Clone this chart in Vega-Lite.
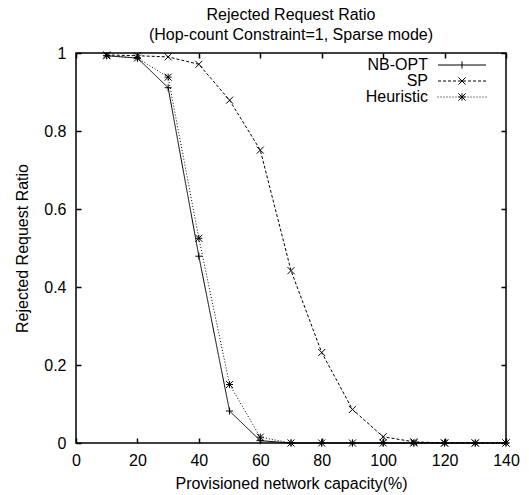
{
  "$schema": "https://vega.github.io/schema/vega-lite/v6.json",
  "width": 430,
  "height": 390,
  "autosize": {"type": "none"},
  "padding": {"left": 76, "top": 53, "right": 23, "bottom": 52},
  "background": "white",
  "title": {
    "text": ["Rejected Request Ratio", "(Hop-count Constraint=1, Sparse mode)"],
    "font": "Liberation Sans",
    "fontSize": 16,
    "fontWeight": "normal",
    "color": "black",
    "lineHeight": 20,
    "anchor": "middle",
    "frame": "group",
    "offset": 2
  },
  "data": {
    "values": [
      {"series": "NB-OPT", "x": 10, "y": 0.993},
      {"series": "NB-OPT", "x": 20, "y": 0.987},
      {"series": "NB-OPT", "x": 30, "y": 0.911},
      {"series": "NB-OPT", "x": 40, "y": 0.479},
      {"series": "NB-OPT", "x": 50, "y": 0.082},
      {"series": "NB-OPT", "x": 60, "y": 0.006},
      {"series": "NB-OPT", "x": 70, "y": 0},
      {"series": "NB-OPT", "x": 80, "y": 0},
      {"series": "NB-OPT", "x": 90, "y": 0},
      {"series": "NB-OPT", "x": 100, "y": 0},
      {"series": "NB-OPT", "x": 110, "y": 0},
      {"series": "NB-OPT", "x": 120, "y": 0},
      {"series": "NB-OPT", "x": 130, "y": 0},
      {"series": "NB-OPT", "x": 140, "y": 0},
      {"series": "SP", "x": 10, "y": 0.995},
      {"series": "SP", "x": 20, "y": 0.993},
      {"series": "SP", "x": 30, "y": 0.99},
      {"series": "SP", "x": 40, "y": 0.971},
      {"series": "SP", "x": 50, "y": 0.879},
      {"series": "SP", "x": 60, "y": 0.751},
      {"series": "SP", "x": 70, "y": 0.442},
      {"series": "SP", "x": 80, "y": 0.232},
      {"series": "SP", "x": 90, "y": 0.086},
      {"series": "SP", "x": 100, "y": 0.016},
      {"series": "SP", "x": 110, "y": 0.003},
      {"series": "SP", "x": 120, "y": 0},
      {"series": "SP", "x": 130, "y": 0},
      {"series": "SP", "x": 140, "y": 0},
      {"series": "Heuristic", "x": 10, "y": 0.993},
      {"series": "Heuristic", "x": 20, "y": 0.987},
      {"series": "Heuristic", "x": 30, "y": 0.938},
      {"series": "Heuristic", "x": 40, "y": 0.525},
      {"series": "Heuristic", "x": 50, "y": 0.15},
      {"series": "Heuristic", "x": 60, "y": 0.015},
      {"series": "Heuristic", "x": 70, "y": 0},
      {"series": "Heuristic", "x": 80, "y": 0},
      {"series": "Heuristic", "x": 90, "y": 0},
      {"series": "Heuristic", "x": 100, "y": 0},
      {"series": "Heuristic", "x": 110, "y": 0},
      {"series": "Heuristic", "x": 120, "y": 0},
      {"series": "Heuristic", "x": 130, "y": 0},
      {"series": "Heuristic", "x": 140, "y": 0}
    ]
  },
  "layer": [
    {
      "mark": {"type": "line", "color": "black", "strokeWidth": 1},
      "encoding": {
        "x": {
          "field": "x", "type": "quantitative",
          "scale": {"domain": [0, 140], "nice": false, "zero": false},
          "axis": {"orient": "bottom", "values": [0, 20, 40, 60, 80, 100, 120, 140], "title": "Provisioned network capacity(%)", "labelPadding": 14, "titlePadding": 7}
        },
        "y": {
          "field": "y", "type": "quantitative",
          "scale": {"domain": [0, 1], "nice": false, "zero": false},
          "axis": {"orient": "left", "values": [0, 0.2, 0.4, 0.6, 0.8, 1], "format": "~g", "title": "Rejected Request Ratio", "labelPadding": 15, "titlePadding": 13}
        },
        "strokeDash": {
          "field": "series", "type": "nominal",
          "scale": {"range": [[1, 2], [1, 0], [3, 2]]},
          "legend": null
        }
      }
    },
    {
      "mark": {"type": "point", "filled": false, "color": "black", "size": 49, "strokeWidth": 1, "opacity": 1},
      "encoding": {
        "x": {
          "field": "x", "type": "quantitative",
          "axis": {"orient": "top", "values": [0, 20, 40, 60, 80, 100, 120, 140], "labels": false, "title": null}
        },
        "y": {
          "field": "y", "type": "quantitative",
          "axis": {"orient": "right", "values": [0, 0.2, 0.4, 0.6, 0.8, 1], "labels": false, "title": null}
        },
        "shape": {
          "field": "series", "type": "nominal",
          "scale": {
            "domain": ["NB-OPT", "SP", "Heuristic"],
            "range": ["M-1,0H1M0,-1V1", "M-1,-1L1,1M-1,1L1,-1", "M-1,0H1M0,-1V1M-1,-1L1,1M-1,1L1,-1"]
          },
          "legend": null
        }
      }
    },
    {
      "mark": {"type": "point", "filled": false, "color": "black", "size": 64, "strokeWidth": 1, "opacity": 0},
      "encoding": {
        "x": {"field": "x", "type": "quantitative", "axis": null},
        "y": {"field": "y", "type": "quantitative", "axis": null},
        "shape": {
          "field": "series", "type": "nominal",
          "scale": {
            "domain": ["NB-OPT", "SP", "Heuristic"],
            "range": [
              "M-6,0H6M0,-0.9V0.9",
              "M-6,0H-5.25M-4.75,0H-4M-3.5,0H-2.75M-2.25,0H-1.5M-1,0H-0.25M0.25,0H1M1.5,0H2.25M2.75,0H3.5M4,0H4.75M5.25,0H6M-0.9,-0.9L0.9,0.9M-0.9,0.9L0.9,-0.9",
              "M-6.125,0H-5.875M-5.375,0H-5.125M-4.625,0H-4.375M-3.875,0H-3.625M-3.125,0H-2.875M-2.375,0H-2.125M-1.625,0H-1.375M-0.875,0H-0.625M0.625,0H0.875M1.375,0H1.625M2.125,0H2.375M2.875,0H3.125M3.625,0H3.875M4.375,0H4.625M5.125,0H5.375M5.875,0H6.125M-0.9,0H0.9M0,-0.9V0.9M-0.9,-0.9L0.9,0.9M-0.9,0.9L0.9,-0.9"
            ]
          },
          "legend": {
            "title": null,
            "orient": "none",
            "legendX": 370,
            "legendY": 4,
            "padding": 0,
            "rowPadding": -8,
            "labelAlign": "right",
            "labelOffset": -42,
            "symbolOffset": 8,
            "symbolSize": 64,
            "symbolOpacity": 1,
            "symbolStrokeColor": "black",
            "symbolStrokeWidth": 1,
            "symbolFillColor": "transparent",
            "labelFont": "Liberation Sans",
            "labelFontSize": 16,
            "labelColor": "black",
            "labelLimit": 300
          }
        }
      }
    }
  ],
  "resolve": {
    "axis": {"x": "independent", "y": "independent"},
    "scale": {"shape": "independent"},
    "legend": {"shape": "independent"}
  },
  "config": {
    "font": "Liberation Sans",
    "view": {"stroke": "black", "strokeWidth": 1.5},
    "axis": {
      "domain": false,
      "grid": false,
      "ticks": true,
      "tickSize": -5,
      "tickColor": "black",
      "tickWidth": 1.5,
      "labelFont": "Liberation Sans",
      "labelFontSize": 16,
      "labelColor": "black",
      "titleFont": "Liberation Sans",
      "titleFontSize": 16,
      "titleFontWeight": "normal",
      "titleColor": "black",
      "labelFlush": false,
      "labelOverlap": false
    }
  }
}
